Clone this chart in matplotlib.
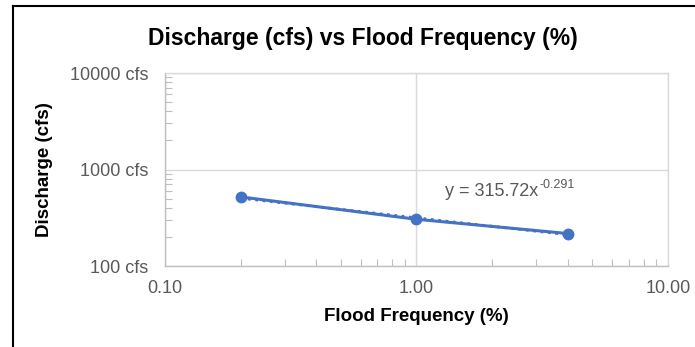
import matplotlib
matplotlib.use("Agg")
import matplotlib.pyplot as plt
from matplotlib.ticker import FixedLocator, FixedFormatter, LogLocator, NullFormatter
from matplotlib.lines import Line2D
from matplotlib.transforms import offset_copy
import numpy as np

# data
freq_pct = [0.2, 1.0, 4.0]
discharge_cfs = [520, 305, 217]
fit_a, fit_b = 315.72, -0.291

x_ticks = [0.1, 1, 10]
x_labels = ["0.10", "1.00", "10.00"]
y_ticks = [100, 1000, 10000]
y_labels = ["100 cfs", "1000 cfs", "10000 cfs"]

blue = "#4472C4"
grey_txt = "#595959"
grid_c = "#D9D9D9"

plt.rcParams["font.family"] = ["Liberation Sans", "DejaVu Sans"]

fig = plt.figure(figsize=(6.95, 3.47), dpi=100)
ax = fig.add_axes([0.2374, 0.2334, 0.961 - 0.2374, 0.7896 - 0.2334])

ax.plot(freq_pct, discharge_cfs, color=blue, lw=2.2, marker="o", ms=7.5, zorder=3)
fx = np.geomspace(freq_pct[0], freq_pct[-1], 50)
ax.plot(fx, fit_a * fx ** fit_b, color=blue, lw=2.0, ls=":", zorder=4)

ax.set_xscale("log")
ax.set_yscale("log")
ax.set_xlim(0.1, 10)
ax.set_ylim(100, 10000)

ax.xaxis.set_major_locator(FixedLocator(x_ticks))
ax.xaxis.set_major_formatter(FixedFormatter(x_labels))
ax.yaxis.set_major_locator(FixedLocator(y_ticks))
ax.yaxis.set_major_formatter(FixedFormatter(y_labels))
ax.xaxis.set_minor_locator(LogLocator(base=10, subs=np.arange(2, 10)))
ax.yaxis.set_minor_locator(LogLocator(base=10, subs=np.arange(2, 10)))
ax.xaxis.set_minor_formatter(NullFormatter())
ax.yaxis.set_minor_formatter(NullFormatter())

ax.tick_params(which="major", length=0, labelsize=13, labelcolor=grey_txt)
ax.tick_params(axis="y", which="major", pad=12)
ax.tick_params(axis="x", which="major", pad=10)
ax.tick_params(which="minor", direction="in", length=5, width=0.8, color="#BFBFBF")

ax.grid(True, which="major", color=grid_c, lw=1.0)
for s in ax.spines.values():
    s.set_color(grid_c)
    s.set_linewidth(1.0)
ax.spines["left"].set_color("#BFBFBF")
ax.spines["bottom"].set_color("#BFBFBF")

ax.set_xlabel("Flood Frequency (%)", fontsize=13.5, fontweight="bold", labelpad=8)
ax.set_ylabel("Discharge (cfs)", fontsize=13.5, fontweight="bold", labelpad=12)
fig.text(0.522, 0.89, "Discharge (cfs) vs Flood Frequency (%)", ha="center", va="center",
         fontsize=16.5, fontweight="bold")

# trendline equation, exponent as a raised smaller text
eq = ax.text(1.30, 530, "y = 315.72x", fontsize=13, color=grey_txt, ha="left", va="baseline")
fig.canvas.draw()
bb = eq.get_window_extent()
sup_x, sup_y = ax.transData.inverted().transform((bb.x1, bb.y0))
ax.text(sup_x, 530, "-0.291", fontsize=9, color=grey_txt, ha="left", va="baseline",
        transform=offset_copy(ax.transData, fig=fig, x=0.5, y=6, units="points"))

# chart area border (partly cropped in the reference)
fig.add_artist(Line2D([13 / 695, 1.0], [1 - 6 / 347, 1 - 6 / 347], color="black", lw=1.5))
fig.add_artist(Line2D([13 / 695, 13 / 695], [0.0, 1 - 6 / 347], color="black", lw=1.5))

fig.savefig("out.png", dpi=100)
